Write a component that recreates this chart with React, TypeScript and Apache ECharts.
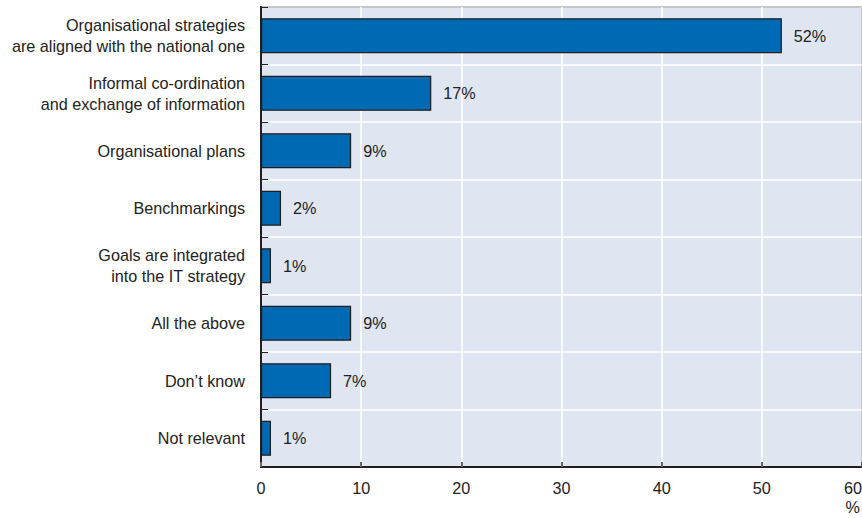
import React, { useEffect, useRef } from "react";
import * as echarts from "echarts";

const categories: string[] = [
  "Organisational strategies\nare aligned with the national one",
  "Informal co-ordination\nand exchange of information",
  "Organisational plans",
  "Benchmarkings",
  "Goals are integrated\ninto the IT strategy",
  "All the above",
  "Don\u2019t know",
  "Not relevant",
];
const values: number[] = [52, 17, 9, 2, 1, 9, 7, 1];
const xTicks: number[] = [0, 10, 20, 30, 40, 50, 60];
const unitLabel = "%";

const FONT = "'Liberation Sans', Arial, Helvetica, sans-serif";
const FS = 16.2;

export default function App() {
  const ref = useRef<HTMLDivElement>(null);
  useEffect(() => {
    if (!ref.current) return;
    const chart = echarts.init(ref.current, undefined, { renderer: "svg" });
    chart.setOption({
      animation: false,
      textStyle: { fontFamily: FONT },
      grid: {
        left: 261,
        right: 0,
        top: 7,
        bottom: 51,
        containLabel: false,
        outerBoundsMode: "none",
        show: true,
        backgroundColor: "#dfe6f2",
        borderColor: "#231f20",
        borderWidth: 2,
      },
      xAxis: {
        type: "value",
        min: xTicks[0],
        max: xTicks[xTicks.length - 1],
        interval: 10,
        axisLine: { show: true, lineStyle: { color: "#231f20", width: 2 } },
        axisTick: { show: true, inside: true, length: 5, lineStyle: { color: "#666", width: 2 } },
        splitLine: { show: true, lineStyle: { color: "#ffffff", width: 1.5 } },
        axisLabel: {
          color: "#222",
          fontSize: FS,
          fontFamily: FONT,
          margin: 13,
          showMaxLabel: true,
          alignMaxLabel: "right",
        },
      },
      yAxis: {
        type: "category",
        inverse: true,
        data: categories,
        axisLine: { show: true, lineStyle: { color: "#231f20", width: 2 } },
        axisTick: { show: true, inside: true, length: 7, lineStyle: { color: "#231f20", width: 1 } },
        splitLine: { show: true, lineStyle: { color: "#ffffff", width: 1.5 } },
        axisLabel: {
          color: "#222",
          fontSize: FS,
          lineHeight: 21,
          fontFamily: FONT,
          margin: 16,
          align: "right",
        },
      },
      series: [
        {
          type: "bar",
          data: values,
          barWidth: 35,
          itemStyle: { color: "#0069b4", borderColor: "#1e1e1e", borderWidth: 1.2 },
          label: {
            show: true,
            position: "right",
            distance: 12,
            formatter: "{c}%",
            color: "#222",
            fontSize: FS,
            fontFamily: FONT,
          },
        },
      ],
      graphic: [
        {
          type: "text",
          right: 2,
          top: 499,
          style: { text: unitLabel, fill: "#222", fontSize: FS, fontFamily: FONT },
        },
      ],
    });
    return () => chart.dispose();
  }, []);
  return (
    <div
      ref={ref}
      style={{ position: "absolute", left: 0, top: 0, width: 862, height: 518, background: "#fff" }}
    />
  );
}
